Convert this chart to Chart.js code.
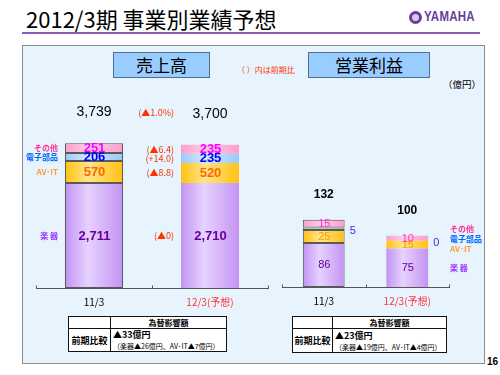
<!DOCTYPE html>
<html>
<head>
<meta charset="utf-8">
<script src="https://cdn.jsdelivr.net/npm/chart.js@4.4.1/dist/chart.umd.min.js"></script>
<style>
  body { margin: 0; width: 500px; height: 375px; background: #fff; position: relative; overflow: hidden;
         font-family: "Noto Sans CJK JP", "Noto Sans", sans-serif; }
  .abs { position: absolute; white-space: nowrap; }
  #title { left: 26px; top: 2px; font-size: 22px; color: #000; }
  #rule { left: 22px; top: 32px; width: 458px; height: 2px; background: #8a5cb8; }
  #logo { left: 408px; top: 9px; height: 16px; }
  #logo .mark { position: absolute; left: 1px; top: 2px; width: 13px; height: 13px; border-radius: 50%; background: #6a3d9a; }
  #logo .mark:after { content: ""; position: absolute; left: 3px; top: 3px; width: 7px; height: 7px; border-radius: 50%; background: #d9c8ec; }
  #logo .word { position: absolute; left: 16px; top: -1px; font: bold 14px "Liberation Sans", sans-serif; color: #6a3d9a;
                transform: scaleX(0.82); transform-origin: left top; letter-spacing: 0.3px; }
  #panel { left: 22px; top: 45px; width: 461px; height: 317px; background: #e8f4fd; border: 1.5px solid #8c8c8c; }
  .head { top: 52px; height: 24px; background: #99ccff; border: 1px solid #4f6f8f; text-align: center;
          font-size: 17px; line-height: 24px; color: #000; }
  #noteRed { left: 237px; top: 64px; font-size: 8px; color: #ff3300; }
  #unit { left: 443px; top: 77px; font-size: 9.5px; color: #000; }
  canvas { position: absolute; }
  table.fx { position: absolute; border-collapse: collapse; background: #fff; }
  table.fx td { border: 1.5px solid #111; padding: 0; color: #000; }
  table.fx .h { height: 11px; font-size: 8px; font-weight: bold; text-align: center; line-height: 11px; }
  table.fx .l { font-size: 9px; font-weight: bold; text-align: center; }
  table.fx .b { font-size: 9px; font-weight: bold; line-height: 12px; padding-left: 2px; }
  table.fx .s { font-size: 7px; line-height: 10px; padding-left: 2px; }
  #page { left: 487px; top: 356px; font: bold 10px "Liberation Sans", sans-serif; color: #000; }
</style>
</head>
<body>
<div id="title" class="abs">2012/3期 事業別業績予想</div>
<div id="rule" class="abs"></div>
<div id="logo" class="abs"><div class="mark"></div><div class="word">YAMAHA</div></div>
<div id="panel" class="abs"></div>
<div class="abs head" style="left:113px;width:95px;">売上高</div>
<div class="abs head" style="left:308px;width:120px;">営業利益</div>
<div id="noteRed" class="abs">（ ）内は前期比</div>
<div id="unit" class="abs">（億円）</div>

<canvas id="salesChart" width="253" height="232" style="left:22px;top:80px;"></canvas>
<canvas id="profitChart" width="210" height="232" style="left:275px;top:80px;"></canvas>

<table class="fx" style="left:68px;top:316px;width:159px;height:36px;">
  <tr><td style="width:41px;"></td><td class="h">為替影響額</td></tr>
  <tr><td class="l">前期比較</td><td><div class="b">▲33億円</div><div class="s">（楽器▲26億円、AV･IT▲7億円）</div></td></tr>
</table>
<table class="fx" style="left:292px;top:316px;width:155px;height:37px;">
  <tr><td style="width:39px;"></td><td class="h">為替影響額</td></tr>
  <tr><td class="l">前期比較</td><td><div class="b">▲23億円</div><div class="s">（楽器▲19億円、AV･IT▲4億円）</div></td></tr>
</table>
<div id="page" class="abs">16</div>

<script>
// categories and segment names (bottom to top)
const categories = ['11/3', '12/3(予想)'];
const segmentNames = ['楽 器', 'AV･IT', '電子部品', 'その他'];

// 売上高 (億円)
const salesInstruments = [2711, 2710];
const salesAvIt = [570, 520];
const salesParts = [206, 235];
const salesOther = [251, 235];
const salesTotals = ['3,739', '3,700'];
const salesChanges = ['(▲0)', '(▲8.8)', '(+14.0)', '(▲6.4)'];
const salesTotalChange = '(▲1.0%)';

// 営業利益 (億円)
const profitInstruments = [86, 75];
const profitAvIt = [25, 15];
const profitParts = [5, 0];
const profitOther = [15, 10];
const profitTotals = ['132', '100'];

const segStyle = [
  { dark: '#c393f3', light: '#e6d2ff', value: '#660099', name: '#9933ff' },
  { dark: '#ffc20f', light: '#ffe48a', value: '#ff6600', name: '#ff9933' },
  { dark: '#9cc9f7', light: '#d2e8ff', value: '#0000ff', name: '#0066ff' },
  { dark: '#ff9dcc', light: '#ffcde4', value: '#ff00ff', name: '#ff3399' }
];
const BAR_PCT = 0.5;

function gradientFor(i) {
  return (c) => {
    const chart = c.chart;
    const x = chart.scales.x;
    if (!chart.chartArea || !x) return segStyle[i].dark;
    const cx = x.getPixelForValue(c.dataIndex);
    const hw = x.width / categories.length * BAR_PCT / 2;
    const g = chart.ctx.createLinearGradient(cx - hw, 0, cx + hw, 0);
    g.addColorStop(0, segStyle[i].dark);
    g.addColorStop(0.4, segStyle[i].light);
    g.addColorStop(1, segStyle[i].dark);
    return g;
  };
}

function labelPlugin(o) {
  return {
    id: 'slideLabels',
    afterDatasetsDraw(chart) {
      const ctx = chart.ctx;
      const xs = chart.scales.x, ys = chart.scales.y;
      ctx.save();
      ctx.textBaseline = 'middle';

      // small upward tick marks on the axis
      ctx.strokeStyle = '#555';
      ctx.lineWidth = 1;
      const axisY = Math.round(ys.bottom) + 0.5;
      [-0.5, 0.5, categories.length - 0.5].forEach(v => {
        const px = Math.round(xs.getPixelForValue(v)) + 0.5;
        ctx.beginPath(); ctx.moveTo(px, axisY); ctx.lineTo(px, axisY - 3); ctx.stroke();
      });

      const metas = chart.data.datasets.map((d, i) => chart.getDatasetMeta(i));
      // values inside segments
      metas.forEach((meta, i) => {
        meta.data.forEach((bar, j) => {
          const v = chart.data.datasets[i].data[j];
          const h = bar.base - bar.y;
          const cy = (bar.y + bar.base) / 2;
          if (h >= 5) {
            ctx.font = o.valueFont;
            ctx.fillStyle = o.valueColors[i];
            ctx.textAlign = 'center';
            ctx.fillText(o.fmt(v), bar.x + 0.5, cy + 0.5);
          } else {
            ctx.font = o.thinFont;
            ctx.fillStyle = '#3333cc';
            ctx.textAlign = 'left';
            ctx.fillText(o.fmt(v), bar.x + bar.width / 2 + 5, cy + 2);
          }
        });
      });

      // totals above the bars
      ctx.font = o.totalFont;
      ctx.fillStyle = '#000';
      ctx.textAlign = 'center';
      o.totals.forEach((t, j) => {
        const top = metas[metas.length - 1].data[j].y;
        ctx.fillText(t, xs.getPixelForValue(j), top - o.totalOffset);
      });

      // segment names
      ctx.font = 'bold 8px "Noto Sans CJK JP"';
      if (o.namesLeft) {
        ctx.textAlign = 'right';
        metas.forEach((meta, i) => {
          const bar = meta.data[0];
          ctx.fillStyle = segStyle[i].name;
          ctx.fillText(segmentNames[i], bar.x - bar.width / 2 - 7, (bar.y + bar.base) / 2);
        });
      } else {
        ctx.textAlign = 'left';
        const last = categories.length - 1;
        const base = metas[0].data[last];
        metas.forEach((meta, i) => {
          const y = i === 0 ? (base.y + base.base) / 2 : base.y - (i - 1) * 10;
          ctx.fillStyle = segStyle[i].name;
          ctx.fillText(segmentNames[i], xs.right + 1, y);
        });
      }

      // year-on-year changes
      if (o.changes) {
        ctx.font = '9px "Noto Sans CJK JP"';
        ctx.fillStyle = '#ff3300';
        ctx.textAlign = 'right';
        metas.forEach((meta, i) => {
          const bar = meta.data[1];
          ctx.fillText(o.changes[i], bar.x - bar.width / 2 - 7, (bar.y + bar.base) / 2);
        });
        const top = metas[metas.length - 1].data[1];
        ctx.fillText(o.totalChange, top.x - top.width / 2 - 7, top.y - o.totalOffset - 1);
      }
      ctx.restore();
    }
  };
}

function buildChart(id, series, o) {
  return new Chart(document.getElementById(id), {
    type: 'bar',
    data: {
      labels: categories,
      datasets: series.map((d, i) => ({
        label: segmentNames[i],
        data: d,
        backgroundColor: gradientFor(i),
        borderColor: '#5a5a5a',
        borderWidth: (c) => c.dataIndex === 0 ? 1 : 0,
        borderSkipped: false,
        barPercentage: BAR_PCT,
        categoryPercentage: 1
      }))
    },
    options: {
      responsive: false,
      animation: false,
      events: [],
      layout: { padding: o.padding },
      plugins: { legend: { display: false }, tooltip: { enabled: false } },
      scales: {
        x: {
          stacked: true,
          grid: { display: false },
          border: { display: true, color: '#555', width: 1 },
          ticks: {
            padding: 0,
            font: { family: '"Noto Sans CJK JP"', size: 10 },
            color: (c) => c.index === 1 ? '#ff3333' : '#000'
          },
          afterFit: (s) => { s.height = o.axisHeight; }
        },
        y: { stacked: true, display: false, min: 0, max: o.max }
      }
    },
    plugins: [labelPlugin(o)]
  });
}

buildChart('salesChart', [salesInstruments, salesAvIt, salesParts, salesOther], {
  padding: { left: 14, right: 7, top: 50, bottom: 0 },
  axisHeight: 24,
  max: 4080,
  fmt: (v) => v.toLocaleString('en-US'),
  valueFont: 'bold 13px "Liberation Sans"',
  thinFont: '11px "Liberation Sans"',
  valueColors: segStyle.map(s => s.value),
  totalFont: '14px "Liberation Sans"',
  totals: salesTotals,
  totalOffset: 31,
  namesLeft: true,
  changes: salesChanges,
  totalChange: salesTotalChange
});

buildChart('profitChart', [profitInstruments, profitAvIt, profitParts, profitOther], {
  padding: { left: 7, right: 36, top: 50, bottom: 0 },
  axisHeight: 25,
  max: 306,
  fmt: (v) => String(v),
  valueFont: '11px "Liberation Sans"',
  thinFont: '11px "Liberation Sans"',
  valueColors: ['#660099', '#ff9900', '#0000ff', '#ff33cc'],
  totalFont: 'bold 12px "Liberation Sans"',
  totals: profitTotals,
  totalOffset: 25,
  namesLeft: false
});
</script>
</body>
</html>
